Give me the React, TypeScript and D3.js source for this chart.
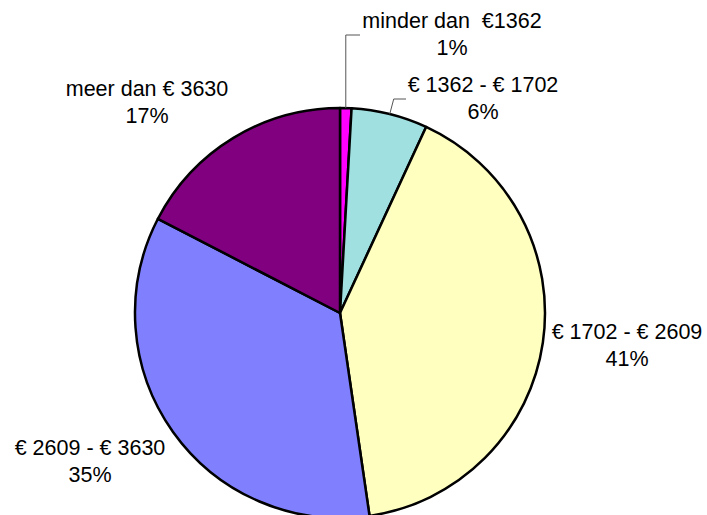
import React from "react";
import * as d3 from "d3";

const categories = [
  "minder dan  €1362",
  "€ 1362 - € 1702",
  "€ 1702 - € 2609",
  "€ 2609 - € 3630",
  "meer dan € 3630",
];
const values = [0.9, 6.0, 40.8, 34.9, 17.4];
const percentLabels = ["1%", "6%", "41%", "35%", "17%"];
const colors = ["#FF00FF", "#A0E0E0", "#FFFFC0", "#8080FF", "#800080"];

// label layout (first baseline position, in px)
const labelPos: [number, number][] = [
  [452, 28],
  [483, 92],
  [627, 339],
  [90, 455],
  [147, 96],
];

const W = 707;
const H = 515;
const cx = 340;
const cy = 313;
const R = 205;

export default function App() {
  const pie = d3.pie<number>().sort(null).value((d) => d);
  const arcs = pie(values);
  const arc = d3.arc<d3.PieArcDatum<number>>().innerRadius(0).outerRadius(R);

  const edgePoint = (a: d3.PieArcDatum<number>) => {
    const m = (a.startAngle + a.endAngle) / 2;
    return [cx + R * Math.sin(m), cy - R * Math.cos(m)];
  };
  const p0 = edgePoint(arcs[0]);
  const p1 = edgePoint(arcs[1]);

  return (
    <svg
      width={W}
      height={H}
      style={{ position: "absolute", left: 0, top: 0, display: "block", background: "#fff" }}
    >
      <g transform={`translate(${cx},${cy})`}>
        {arcs.map((a, i) => (
          <path
            key={i}
            d={arc(a) || ""}
            fill={colors[i]}
            stroke="#000"
            strokeWidth={2.5}
            strokeLinejoin="round"
          />
        ))}
      </g>
      {/* leader lines */}
      <polyline
        points={`${p0[0]},${p0[1]} ${p0[0]},35 360,35`}
        fill="none"
        stroke="#555"
        strokeWidth={1}
      />
      <polyline
        points={`${p1[0]},${p1[1]} ${p1[0] + 4},99 406,99`}
        fill="none"
        stroke="#555"
        strokeWidth={1}
      />
      {categories.map((c, i) => (
        <text
          key={i}
          x={labelPos[i][0]}
          y={labelPos[i][1]}
          textAnchor="middle"
          fontFamily="'Liberation Sans', Arial, sans-serif"
          fontSize={21.5}
          fill="#000"
          style={{ whiteSpace: "pre" }}
        >
          <tspan x={labelPos[i][0]} y={labelPos[i][1]}>{c}</tspan>
          <tspan x={labelPos[i][0]} y={labelPos[i][1] + 27}>{percentLabels[i]}</tspan>
        </text>
      ))}
    </svg>
  );
}
